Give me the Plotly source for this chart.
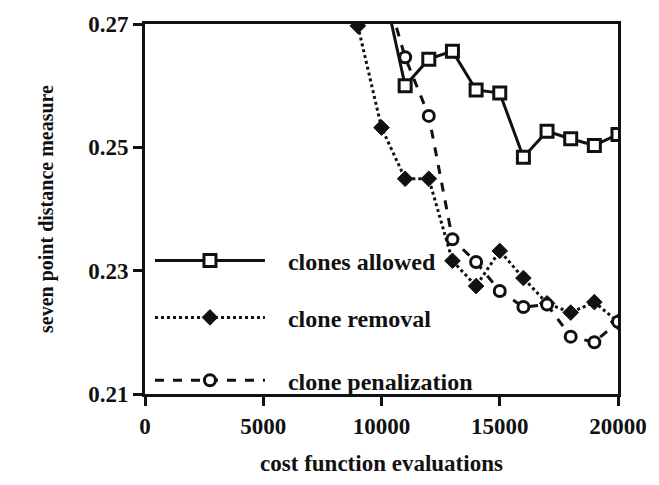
import plotly.graph_objects as go

# Evaluations (x) and seven-point distance measure (y) for each strategy
evals_allowed = [10000, 11000, 12000, 13000, 14000, 15000, 16000, 17000, 18000, 19000, 20000]
dist_allowed = [0.2775, 0.2600, 0.2643, 0.2656, 0.2593, 0.2588, 0.2484, 0.2526, 0.2514, 0.2503, 0.2521]

evals_removal = [9000, 10000, 11000, 12000, 13000, 14000, 15000, 16000, 17000, 18000, 19000, 20000]
dist_removal = [0.2697, 0.2532, 0.2449, 0.2449, 0.2316, 0.2275, 0.2332, 0.2288, 0.2247, 0.2232, 0.2249, 0.2217]

evals_penal = [10000, 11000, 12000, 13000, 14000, 15000, 16000, 17000, 18000, 19000, 20000]
dist_penal = [0.2778, 0.2646, 0.2551, 0.2351, 0.2314, 0.2267, 0.2241, 0.2245, 0.2193, 0.2184, 0.2217]

x_ticks = [0, 5000, 10000, 15000, 20000]
y_ticks = [0.21, 0.23, 0.25, 0.27]
y_tick_text = ["0.21", "0.23", "0.25", "0.27"]

FONT = "Liberation Serif"
BLACK = "#111111"
PAD = "\u00a0" * 3  # gap between legend sample and its label

fig = go.Figure()

fig.add_trace(go.Scatter(
    x=evals_allowed, y=dist_allowed, mode="lines+markers", name=PAD + "clones allowed",
    line=dict(color=BLACK, width=3, dash="solid"),
    marker=dict(symbol="square", size=12, color="white", line=dict(color=BLACK, width=3)),
    legend="legend", showlegend=True,
))
fig.add_trace(go.Scatter(
    x=evals_removal, y=dist_removal, mode="lines+markers", name=PAD + "clone removal",
    line=dict(color=BLACK, width=3, dash="dot"),
    marker=dict(symbol="diamond", size=12, color=BLACK, line=dict(color=BLACK, width=1)),
    legend="legend2", showlegend=True,
))
fig.add_trace(go.Scatter(
    x=evals_penal, y=dist_penal, mode="lines+markers", name=PAD + "clone penalization",
    line=dict(color=BLACK, width=3, dash="dash"),
    marker=dict(symbol="circle", size=11, color="white", line=dict(color=BLACK, width=3)),
    legend="legend3", showlegend=True,
))

legend_common = dict(
    xref="paper", yref="paper", x=0.0105, xanchor="left", yanchor="middle",
    bgcolor="rgba(0,0,0,0)", borderwidth=0, itemwidth=110,
    font=dict(family=FONT, size=24, color=BLACK, weight="bold"),
)

fig.update_layout(
    width=659, height=485,
    margin=dict(l=145, r=37, t=22, b=88),
    paper_bgcolor="white", plot_bgcolor="white",
    showlegend=True,
    font=dict(family=FONT, color=BLACK, weight="bold"),
    legend=dict(y=0.36, **legend_common),
    legend2=dict(y=0.206, **legend_common),
    legend3=dict(y=0.036, **legend_common),
    xaxis=dict(
        range=[0, 20000], tickvals=x_ticks, ticktext=[str(v) for v in x_ticks],
        showgrid=False, zeroline=False,
        showline=True, linecolor=BLACK, linewidth=3, mirror=True,
        ticks="outside", ticklen=9, tickwidth=3, tickcolor=BLACK,
        tickfont=dict(family=FONT, size=23, weight="bold"),
        title=dict(text="cost function evaluations", font=dict(family=FONT, size=23, weight="bold"), standoff=18),
    ),
    yaxis=dict(
        range=[0.21, 0.27], tickvals=y_ticks, ticktext=y_tick_text,
        showgrid=False, zeroline=False,
        showline=True, linecolor=BLACK, linewidth=3, mirror=True,
        ticks="outside", ticklen=9, tickwidth=3, tickcolor=BLACK,
        tickfont=dict(family=FONT, size=23, weight="bold"),
        title=dict(text="seven point distance measure", font=dict(family=FONT, size=20, weight="bold"), standoff=30),
    ),
)

fig.write_html("out.html")
